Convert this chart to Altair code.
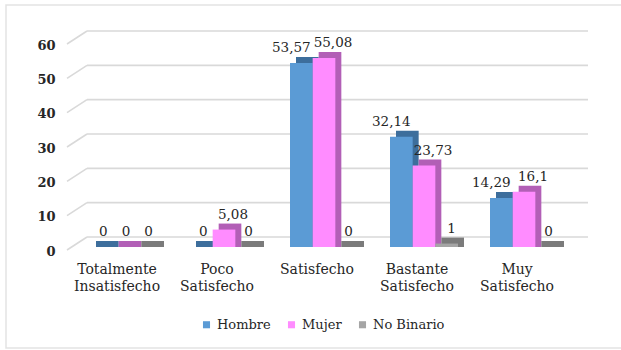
import altair as alt
import pandas as pd

# Satisfacción por género (%)
categories = [
    "Totalmente Insatisfecho",
    "Poco Satisfecho",
    "Satisfecho",
    "Bastante Satisfecho",
    "Muy Satisfecho",
]
series = ["Hombre", "Mujer", "No Binario"]
hombre = [0, 0, 53.57, 32.14, 14.29]
mujer = [0, 5.08, 55.08, 23.73, 16.1]
no_binario = [0, 0, 0, 1, 0]
y_ticks = [0, 10, 20, 30, 40, 50, 60]

front_colors = ["#5B9BD5", "#FF8CFF", "#A5A5A5"]
side_colors = ["#3D6E9C", "#B25FB6", "#7B7B7B"]

FONT = "DejaVu Serif"
TEXT = "#262626"
GRID = "#D9D9D9"

rows = []
for name, vals in zip(series, [hombre, mujer, no_binario]):
    for cat, v in zip(categories, vals):
        rows.append({
            "categoria": cat,
            "serie": name,
            "valor": v,
            "cero": 0,
            "etiqueta": f"{v:g}".replace(".", ","),
        })
df = pd.DataFrame(rows)
grid_df = pd.DataFrame({"v": y_ticks})

W, H = 514, 206
LEFT, TOP = 67, 41
DEPTH = 6
BAND = 68  # bar-group width in px (step 100 x (1 - paddingInner))

x_enc = alt.X(
    "categoria:N",
    sort=categories,
    scale=alt.Scale(paddingInner=0.32, paddingOuter=0.23),
    axis=alt.Axis(
        title=None, labelAngle=0, domain=False, ticks=False,
        labelExpr="split(datum.label, ' ')",
        labelFont=FONT, labelFontSize=14, labelColor=TEXT,
        labelPadding=15, labelOffset=-7, labelLineHeight=17,
    ),
)


def offset_enc(shift=0):
    return alt.XOffset(
        "serie:N", sort=series,
        scale=alt.Scale(type="band", domain=series, paddingInner=0, paddingOuter=0,
                        range=[shift, BAND + shift]),
    )


y_scale = alt.Scale(domain=[0, 60], nice=False, zero=True)
y_axis = alt.Axis(
    title=None, values=y_ticks, grid=False, domain=False, ticks=False,
    labelFont=FONT, labelFontSize=13, labelColor=TEXT, labelFontWeight="bold",
    labelPadding=12, labelOffset=4,
)
y_enc = alt.Y("valor:Q", scale=y_scale, axis=y_axis, stack=None)

# light frame around the whole chart area
frame = alt.Chart(pd.DataFrame({"k": [0]})).mark_rect(
    fill=None, stroke="#E3E3E3", strokeWidth=1.5
).encode(
    x=alt.value(6 - LEFT), x2=alt.value(630 - LEFT),
    y=alt.value(5 - TOP), y2=alt.value(348 - TOP),
)

# back-wall gridlines and the short diagonals of the side wall
back_grid = alt.Chart(grid_df).mark_rule(color=GRID, strokeWidth=1.6, yOffset=-10).encode(
    y=alt.Y("v:Q", scale=y_scale, axis=y_axis),
    x=alt.value(20),
    x2=alt.value(W + 7),
)
side_grid = alt.Chart(grid_df).mark_rule(color=GRID, strokeWidth=1.6, yOffset=3, y2Offset=-10).encode(
    y=alt.Y("v:Q", scale=y_scale, axis=y_axis),
    y2="v:Q",
    x=alt.value(0),
    x2=alt.value(20),
)

base = alt.Chart(df)

# depth faces: darker copy shifted up and right
shadow = base.mark_bar(yOffset=-DEPTH).encode(
    x=x_enc,
    xOffset=offset_enc(DEPTH),
    y=y_enc,
    y2="cero:Q",
    color=alt.Color("serie:N", sort=series,
                    scale=alt.Scale(domain=series, range=side_colors), legend=None),
)

front = base.mark_bar().encode(
    x=x_enc,
    xOffset=offset_enc(0),
    y=y_enc,
    fill=alt.Fill(
        "serie:N", sort=series,
        scale=alt.Scale(domain=series, range=front_colors),
        legend=alt.Legend(
            title=None, orient="none", direction="horizontal",
            legendX=133, legendY=277,
            symbolType="square", symbolSize=50, symbolStrokeWidth=0,
            labelFont=FONT, labelFontSize=13, labelColor=TEXT,
            labelOffset=4, columnPadding=14,
        ),
    ),
)


def labels(filter_expr, dx):
    return base.transform_filter(filter_expr).mark_text(
        font=FONT, fontSize=13.5, color=TEXT, baseline="middle", dy=-15, dx=dx
    ).encode(x=x_enc, xOffset=offset_enc(0), y=y_enc, text="etiqueta:N")


lab_zero = labels("datum.valor == 0", 2)
lab_h = labels("datum.valor > 0 && datum.serie == 'Hombre'", -10)
lab_m = labels("datum.valor > 0 && datum.serie == 'Mujer'", 9)
lab_nb = labels("datum.valor > 0 && datum.serie == 'No Binario'", 5)

chart = (
    alt.layer(frame, back_grid, side_grid, shadow, front, lab_zero, lab_h, lab_m, lab_nb)
    .resolve_scale(color="independent", fill="independent", xOffset="independent")
    .properties(
        width=W, height=H,
        autosize=alt.AutoSizeParams(type="none"),
        padding={"left": LEFT, "top": TOP, "right": 40, "bottom": 103},
        background="white",
    )
    .configure_view(stroke=None)
)

chart.save("out.html", embed_options={"renderer": "svg", "actions": False})
